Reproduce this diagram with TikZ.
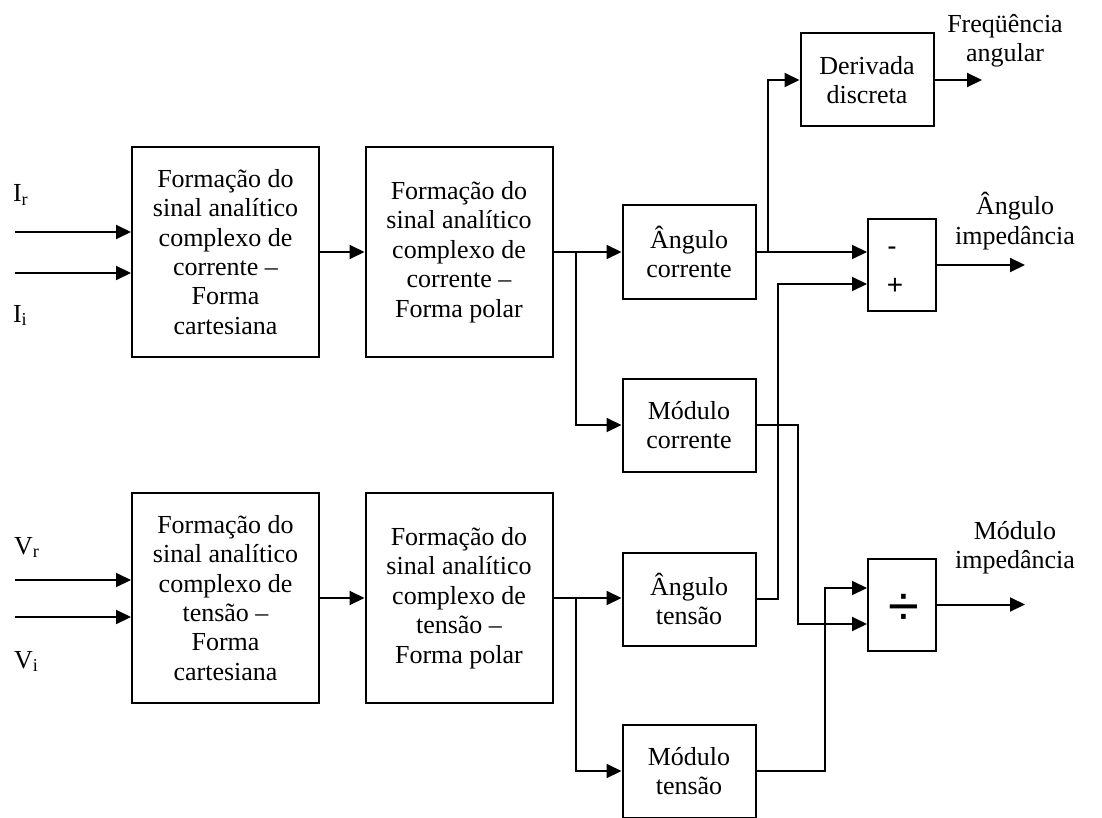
\documentclass[tikz,border=0pt]{standalone}
\usepackage{fontspec}
\setmainfont{Liberation Serif}
\newfontfamily\signfont{Liberation Sans}
\usetikzlibrary{arrows.meta,calc}

\begin{document}
\begin{tikzpicture}[
  x=0.5pt, y=-0.5pt,
  line width=1pt,
  every node/.style={font=\fontsize{13}{14.7}\selectfont},
  block/.style={draw, align=center, inner sep=0pt},
  bigblock/.style={block, minimum width=93.5pt, minimum height=105pt},
  smallblock/.style={block, minimum width=66.5pt, minimum height=46.5pt},
  opblock/.style={block, minimum width=34pt, minimum height=46pt},
  sign/.style={font=\signfont\fontsize{14}{16}\selectfont, inner sep=0pt},
  outlabel/.style={align=center, inner sep=0pt},
  signal/.style={-{Triangle[length=7.5pt,width=7pt]}}
]
\useasboundingbox (0,0) rectangle (1102,818);

% formation blocks
\node[bigblock] (A1) at (225.5,252) {Formação do\\sinal analítico\\complexo de\\corrente –\\Forma\\cartesiana};
\node[bigblock] (B1) at (459,252) {Formação do\\sinal analítico\\complexo de\\corrente –\\Forma polar};
\node[bigblock] (A2) at (225.5,598) {Formação do\\sinal analítico\\complexo de\\tensão –\\Forma\\cartesiana};
\node[bigblock] (B2) at (459,598) {Formação do\\sinal analítico\\complexo de\\tensão –\\Forma polar};

% angle / modulus blocks
\node[smallblock] (AC) at (689,252) {Ângulo\\corrente};
\node[smallblock] (MC) at (689,425) {Módulo\\corrente};
\node[smallblock] (AT) at (689,599) {Ângulo\\tensão};
\node[smallblock] (MT) at (689,771) {Módulo\\tensão};
\node[smallblock] (D) at (867,80) {Derivada\\discreta};

% operators
\node[opblock] (S) at (902,265) {};
\node[opblock] (Q) at (902,604.5) {};
\node[sign] (Sm) at (892,251) {-};
\node[sign] (Sp) at (895,286) {+};
\node[font=\signfont\fontsize{28}{30}\selectfont, inner sep=0pt] (Qd) at (904,610) {÷};

% inputs
\foreach \name/\y/\blk in {ir/232/A1, ii/273/A1, vr/580/A2, vi/617/A2} {
  \coordinate (\name) at (15,\y);
  \draw[signal] (\name) -- (\name -| \blk.west);
}
\node[anchor=base west, inner sep=0pt] (Ir) at (12,202) {I\textsubscript{r}};
\node[anchor=base west, inner sep=0pt] (Ii) at (12,322) {I\textsubscript{i}};
\node[anchor=base west, inner sep=0pt] (Vr) at (13,554) {V\textsubscript{r}};
\node[anchor=base west, inner sep=0pt] (Vi) at (13,668) {V\textsubscript{i}};

\draw[signal] (A1) -- (B1);
\draw[signal] (A2) -- (B2);

% polar split
\coordinate (jI) at (576,252);
\coordinate (jV) at (576,598);
\draw[signal] (B1.east) -- (B1.east -| AC.west);
\draw[signal] (jI) |- (MC.west);
\draw[signal] (B2.east) -- (B2.east -| AT.west);
\draw[signal] (jV) |- (MT.west);

% angle path
\coordinate (jA) at ($(AC.east)+(11.5,0)$);
\draw[signal] (AC.east) -- (AC.east -| S.west);
\draw[signal] (jA) |- (D.west);
\draw[signal] (AT.east) -- ++(21.5,0) |- ($(S.west)+(0,19)$);

% modulus path
\draw[signal] (MC.east) -- ++(41.5,0) |- ($(Q.west)+(0,19.5)$);
\draw[signal] (MT.east) -- ++(68.5,0) |- ($(Q.west)+(0,-16.5)$);

% outputs
\coordinate (wout) at (982,80);
\coordinate (zang) at (1025,265);
\coordinate (zmod) at (1025,604.5);
\draw[signal] (D.east) -- (wout);
\draw[signal] (S.east) -- (zang);
\draw[signal] (Q.east) -- (zmod);
\node[outlabel] (Lw) at (1005,41) {Freqüência\\angular};
\node[outlabel] (La) at (1015,221) {Ângulo\\impedância};
\node[outlabel] (Lm) at (1015,548) {Módulo\\impedância};
\end{tikzpicture}
\end{document}
